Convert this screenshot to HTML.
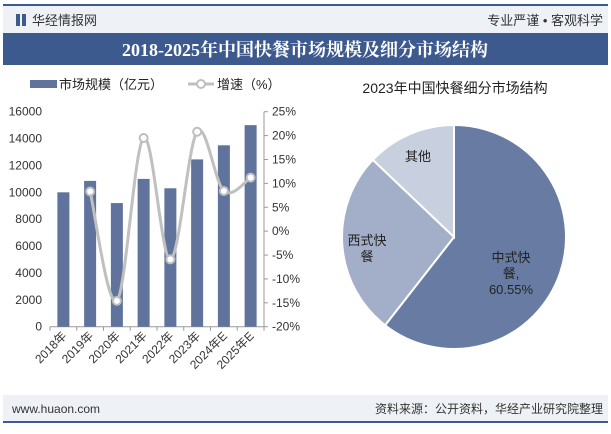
<!DOCTYPE html>
<html><head><meta charset="utf-8"><style>
body{margin:0;width:611px;height:429px;overflow:hidden;background:#fff;font-family:"Liberation Sans","Noto Sans CJK SC",sans-serif;}
</style></head><body>
<svg width="611" height="429" xmlns="http://www.w3.org/2000/svg" style="font-family:'Liberation Sans','Noto Sans CJK SC',sans-serif">
<rect x="0" y="0" width="611" height="429" fill="#fff"/>
<rect x="3" y="4" width="605" height="2" fill="#3d5a8e"/>
<rect x="3" y="6" width="605" height="27" fill="#eef1f6"/>
<g><rect x="16" y="14" width="4" height="12" fill="#3d5a8e"/><rect x="22" y="14" width="4" height="12" fill="#3d5a8e"/></g>
<text x="32" y="25" font-size="13" fill="#333">华经情报网</text>
<text x="603" y="25" font-size="13" fill="#333" text-anchor="end">专业严谨 • 客观科学</text>
<rect x="3" y="33" width="605" height="32" fill="#3d5a8e"/>
<text x="305" y="56" font-size="18" font-weight="bold" fill="#fff" text-anchor="middle" font-family="'Liberation Serif','Noto Serif CJK SC',serif">2018-2025年中国快餐市场规模及细分市场结构</text>
<rect x="3" y="395" width="605" height="27" fill="#eef1f6"/>
<rect x="3" y="421" width="605" height="2" fill="#3d5a8e"/>
<text x="12" y="413" font-size="12" fill="#333">www.huaon.com</text>
<text x="603" y="413" font-size="12" fill="#333" text-anchor="end">资料来源：公开资料，华经产业研究院整理</text>
<g id="left"></g>
<g id="right"></g>
</svg>
<script>
const categories=["2018年","2019年","2020年","2021年","2022年","2023年","2024年E","2025年E"];
const marketSize=[10000,10850,9200,11000,10300,12450,13500,15000];
const growth=[null,8.3,-14.6,19.5,-5.9,20.8,8.4,11.2];
const leftTicks=[0,2000,4000,6000,8000,10000,12000,14000,16000];
const rightTicks=[-20,-15,-10,-5,0,5,10,15,20,25];
const pieLabels=["中式快餐","西式快餐","其他"];
const pieValues=[60.55,26.55,12.9];

const NS="http://www.w3.org/2000/svg";
function mk(tag,attrs,parent,text){const e=document.createElementNS(NS,tag);for(const k in attrs)e.setAttribute(k,attrs[k]);if(text!==undefined)e.textContent=text;parent.appendChild(e);return e;}
const L=document.getElementById('left');
const x0=50,x1=264,yTop=111.7,yBot=326.7;
const step=(x1-x0)/categories.length;
const yL=v=>yBot-(v/16000)*(yBot-yTop);
const yR=v=>yBot-((v+20)/45)*(yBot-yTop);
const xC=i=>x0+step*(i+0.5);
// legend
let lg=mk('g',{},L);


mk('rect',{x:30,y:80,width:27,height:8,fill:'#5f739d'},lg);
mk('text',{x:59,y:89,'font-size':13,fill:'#222'},lg,'市场规模（亿元）');
mk('line',{x1:188,y1:84,x2:214,y2:84,stroke:'#bfbfbf','stroke-width':3},lg);
mk('circle',{cx:201,cy:84,r:4,fill:'#fff',stroke:'#bfbfbf','stroke-width':2},lg);
mk('text',{x:217,y:89,'font-size':13,fill:'#222'},lg,'增速（%）');
// axes
mk('line',{x1:x0,y1:yBot,x2:x1,y2:yBot,stroke:'#999'},L);
mk('line',{x1:x1,y1:yTop,x2:x1,y2:yBot,stroke:'#999'},L);
leftTicks.forEach(t=>{const tx=mk('text',{x:42,y:yL(t)+4,'font-size':12,fill:'#333','text-anchor':'end'},L,String(t));});
rightTicks.forEach(t=>{mk('line',{x1:x1,y1:yR(t),x2:x1+4,y2:yR(t),stroke:'#999'},L);const tx=mk('text',{x:x1+8,y:yR(t)+4,'font-size':12,fill:'#333'},L,t+'%');});
for(let i=0;i<=categories.length;i++)mk('line',{x1:x0+step*i,y1:yBot,x2:x0+step*i,y2:yBot+4,stroke:'#999'},L);
categories.forEach((c,i)=>{
 const b=mk('rect',{x:xC(i)-6,y:yL(marketSize[i]),width:12,height:yBot-yL(marketSize[i]),fill:'#5f739d'},L);
 
 
 const tx=mk('text',{x:xC(i)+4,y:yBot+10,'font-size':12,fill:'#333','text-anchor':'end',transform:`rotate(-45 ${xC(i)+4} ${yBot+10})`},L,c);
 
 
});
// smooth line
const pts=[];growth.forEach((g,i)=>{if(g!==null)pts.push([xC(i),yR(g)]);});
let d=`M${pts[0][0]},${pts[0][1]}`;
for(let i=0;i<pts.length-1;i++){const p0=pts[i-1]||pts[i],p1=pts[i],p2=pts[i+1],p3=pts[i+2]||p2;const t=0.17;
 d+=` C${p1[0]+(p2[0]-p0[0])*t},${p1[1]+(p2[1]-p0[1])*t} ${p2[0]-(p3[0]-p1[0])*t},${p2[1]-(p3[1]-p1[1])*t} ${p2[0]},${p2[1]}`;}
const ln=mk('path',{d:d,fill:'none',stroke:'#c0c0c0','stroke-width':3},L);


pts.forEach(p=>{const c=mk('circle',{cx:p[0],cy:p[1],r:4,fill:'#fff',stroke:'#bfbfbf','stroke-width':2},L);});
// pie
const R=document.getElementById('right');
const pt=mk('text',{x:455,y:93,'font-size':14,fill:'#222','text-anchor':'middle'},R,'2023年中国快餐细分市场结构');


const cx=454,cy=237,r=112,cols=['#687ca3','#a3afc8','#c8cfde'];
const total=pieValues.reduce((a,b)=>a+b,0);let a=0;
pieValues.forEach((v,i)=>{const a0=a,a1=a+v/total*2*Math.PI;a=a1;
 const p=(t)=>[cx+r*Math.sin(t),cy-r*Math.cos(t)];const s=p(a0),e=p(a1);
 const sl=mk('path',{d:`M${cx},${cy} L${s[0]},${s[1]} A${r},${r} 0 ${a1-a0>Math.PI?1:0} 1 ${e[0]},${e[1]} Z`,fill:cols[i],stroke:'#fff','stroke-width':2},R);
 
 
});
function lab(lines,x,y){const t=mk('text',{x:x,y:y,'font-size':13,fill:'#222','text-anchor':'middle'},R);lines.forEach((s,k)=>mk('tspan',{x:x,dy:k?16:0},t,s));}
lab(['中式快','餐,','60.55%'],511,262);
lab(['西式快','餐'],367,245);
lab(['其他'],418,161);
</script>
</body></html>
